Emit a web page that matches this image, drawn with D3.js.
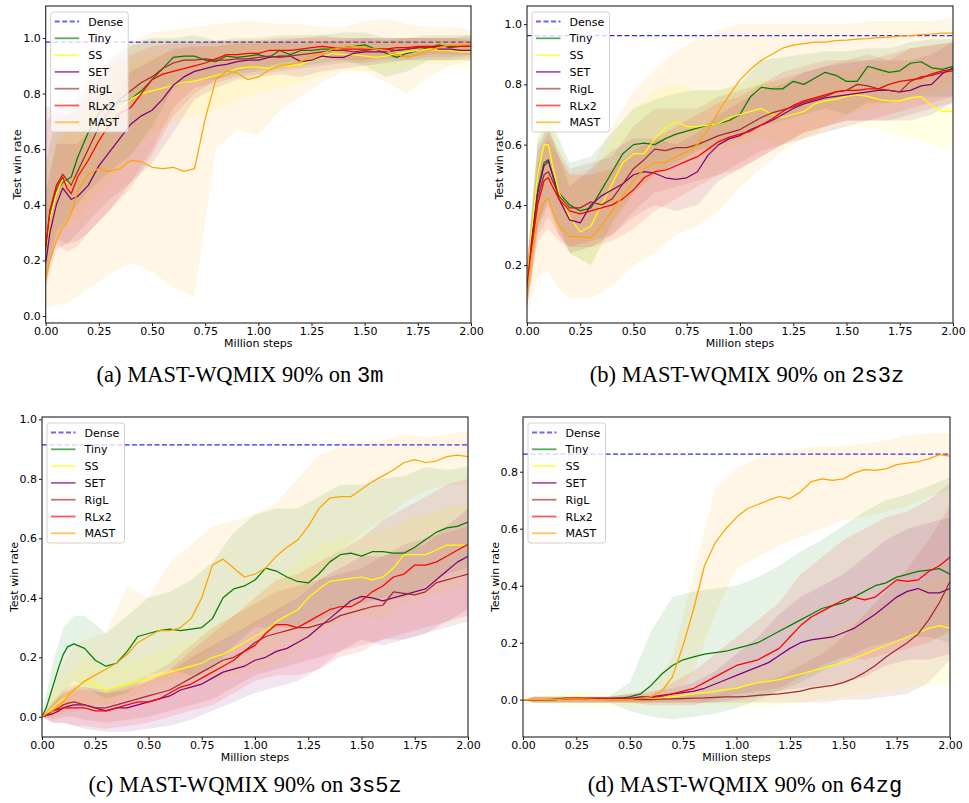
<!DOCTYPE html>
<html><head><meta charset="utf-8">
<script src="https://cdn.jsdelivr.net/npm/d3@7"></script>
<style>body{margin:0;background:#fff}svg{display:block}</style>
</head><body>
<svg id="fig" width="969" height="803"></svg>
<script>
// Training steps (millions) at which the smoothed mean win rate was logged
const steps = [0, 0.02, 0.05, 0.08, 0.10, 0.12, 0.15,
  0.20, 0.25, 0.30, 0.35, 0.40, 0.45, 0.50, 0.55, 0.60, 0.65,
  0.70, 0.75, 0.80, 0.85, 0.90, 0.95, 1.00, 1.05, 1.10, 1.15,
  1.20, 1.25, 1.30, 1.35, 1.40, 1.45, 1.50, 1.55, 1.60, 1.65,
  1.70, 1.75, 1.80, 1.85, 1.90, 1.95, 2.00];
// Steps at which the spread (min / max over seeds) was logged
const bandSteps = [0, 0.05, 0.10, 0.15, 0.20,
  0.3, 0.4, 0.5, 0.6, 0.7, 0.8, 0.9,
  1.0, 1.1, 1.2, 1.3, 1.4, 1.5, 1.6, 1.7, 1.8, 1.9, 2.0];

const methods = ["Tiny", "SS", "SET", "RigL", "RLx2", "MAST"];
const maps = ["3m", "2s3z", "3s5z", "64zg"];
const denseWinRate = [0.985, 0.962, 0.914, 0.862];
const xTicks = [0, 0.25, 0.5, 0.75, 1.0, 1.25, 1.5, 1.75, 2.0];

// ---- 3m ----
const tiny3m = [0.22,0.36,0.45,0.48,0.49,0.50,0.57, 0.66,0.73,0.76,0.77,0.78,0.81,0.85,0.89,0.93,0.935, 0.935,0.92,0.915,0.935,0.93,0.935,0.94,0.93,0.955,0.94, 0.955,0.955,0.96,0.96,0.965,0.97,0.975,0.96,0.945,0.93, 0.945,0.955,0.965,0.975,0.965,0.97,0.97];
const ss3m = [0.22,0.35,0.44,0.49,0.48,0.47,0.50, 0.56,0.63,0.70,0.75,0.78,0.80,0.81,0.82,0.83,0.84, 0.845,0.855,0.865,0.875,0.89,0.895,0.895,0.89,0.90,0.90, 0.905,0.92,0.93,0.945,0.94,0.94,0.935,0.93,0.935,0.945, 0.95,0.955,0.96,0.955,0.955,0.95,0.95];
const set3m = [0.19,0.30,0.40,0.46,0.44,0.42,0.43, 0.47,0.54,0.59,0.64,0.69,0.72,0.74,0.78,0.83,0.86, 0.88,0.89,0.90,0.905,0.915,0.92,0.92,0.93,0.935,0.935, 0.915,0.92,0.935,0.93,0.93,0.945,0.95,0.95,0.95,0.955, 0.96,0.965,0.97,0.96,0.96,0.955,0.955];
const rigl3m = [0.24,0.38,0.47,0.51,0.49,0.47,0.52, 0.60,0.68,0.74,0.78,0.81,0.84,0.86,0.89,0.91,0.92, 0.92,0.925,0.92,0.92,0.925,0.925,0.93,0.935,0.93,0.935, 0.94,0.945,0.95,0.955,0.955,0.95,0.955,0.96,0.96,0.955, 0.96,0.965,0.965,0.97,0.97,0.97,0.975];
const rlx23m = [0.25,0.38,0.46,0.50,0.46,0.44,0.50, 0.56,0.63,0.69,0.73,0.75,0.80,0.85,0.87,0.88,0.89, 0.90,0.91,0.925,0.94,0.94,0.945,0.945,0.955,0.955,0.955, 0.96,0.965,0.97,0.965,0.96,0.96,0.96,0.96,0.96,0.965, 0.965,0.97,0.97,0.97,0.97,0.97,0.97];
const mast3m = [0.13,0.20,0.27,0.32,0.34,0.37,0.45, 0.51,0.53,0.52,0.53,0.56,0.555,0.535,0.53,0.535,0.52, 0.53,0.71,0.85,0.88,0.875,0.85,0.86,0.885,0.90,0.905, 0.915,0.935,0.945,0.96,0.965,0.97,0.965,0.96,0.955,0.94, 0.93,0.94,0.955,0.965,0.975,0.975,0.975];
const tinyLo3m = [0.12,0.30,0.35,0.40,0.45, 0.52,0.58,0.68,0.82,0.85,0.85,0.87, 0.88,0.89,0.90,0.91,0.92,0.90,0.86,0.88,0.92,0.92,0.93];
const tinyHi3m = [0.55,0.72,0.72,0.78,0.85, 0.92,0.98,1.00,1.00,1.01,0.99,1.00, 1.00,1.01,1.01,1.01,1.02,1.02,1.00,1.00,1.01,1.01,1.01];
const ssLo3m = [0.12,0.28,0.32,0.35,0.40, 0.48,0.58,0.66,0.70,0.72,0.74,0.78, 0.80,0.82,0.84,0.87,0.89,0.88,0.88,0.90,0.91,0.90,0.89];
const ssHi3m = [0.50,0.66,0.66,0.68,0.74, 0.86,0.92,0.94,0.95,0.96,0.97,0.98, 0.98,0.98,0.98,0.99,0.99,0.99,0.99,1.00,1.00,1.00,1.00];
const setLo3m = [0.10,0.24,0.26,0.27,0.30, 0.38,0.48,0.55,0.66,0.78,0.82,0.85, 0.86,0.87,0.86,0.88,0.89,0.90,0.91,0.92,0.92,0.92,0.92];
const setHi3m = [0.45,0.62,0.62,0.62,0.66, 0.78,0.88,0.92,0.96,0.97,0.97,0.98, 0.98,0.99,0.98,0.99,0.99,1.00,1.00,1.00,1.00,1.00,0.99];
const riglLo3m = [0.14,0.28,0.26,0.30,0.34, 0.42,0.48,0.60,0.75,0.82,0.84,0.86, 0.87,0.88,0.89,0.90,0.91,0.91,0.92,0.92,0.93,0.93,0.94];
const riglHi3m = [0.75,0.76,0.74,0.76,0.82, 0.92,0.97,0.99,0.99,0.99,0.99,0.99, 0.99,0.99,1.00,1.00,1.00,1.00,1.00,1.00,1.00,1.00,1.01];
const rlx2Lo3m = [0.15,0.26,0.23,0.25,0.30, 0.38,0.46,0.58,0.72,0.80,0.85,0.88, 0.89,0.91,0.92,0.93,0.92,0.92,0.93,0.93,0.94,0.94,0.94];
const rlx2Hi3m = [0.70,0.74,0.72,0.74,0.80, 0.90,0.94,0.97,0.98,0.98,0.99,0.99, 0.99,1.00,1.00,1.01,1.00,1.00,0.99,1.00,1.00,1.00,1.00];
const mastLo3m = [0.03,0.04,0.045,0.07,0.10, 0.15,0.19,0.16,0.10,0.07,0.60,0.67, 0.65,0.74,0.79,0.84,0.88,0.88,0.84,0.80,0.86,0.90,0.92];
const mastHi3m = [0.35,0.60,0.68,0.80,0.88, 0.94,0.99,1.02,1.03,1.04,1.05,1.06, 1.06,1.05,1.05,1.04,1.04,1.06,1.07,1.05,1.04,1.04,1.03];

// ---- 2s3z ----
const tiny2s3z = [0.12,0.28,0.45,0.54,0.55,0.50,0.44, 0.40,0.38,0.39,0.45,0.51,0.57,0.60,0.605,0.60,0.62, 0.635,0.645,0.655,0.665,0.67,0.68,0.70,0.76,0.79,0.785, 0.785,0.81,0.80,0.82,0.84,0.83,0.81,0.81,0.86,0.85, 0.84,0.845,0.87,0.875,0.855,0.85,0.86];
const ss2s3z = [0.12,0.30,0.50,0.60,0.60,0.53,0.44, 0.36,0.31,0.33,0.40,0.47,0.54,0.57,0.57,0.62,0.655, 0.675,0.66,0.66,0.665,0.67,0.69,0.70,0.71,0.72,0.70, 0.69,0.70,0.71,0.735,0.745,0.75,0.76,0.765,0.76,0.75, 0.745,0.745,0.755,0.76,0.73,0.71,0.71];
const set2s3z = [0.11,0.27,0.44,0.53,0.545,0.50,0.42, 0.35,0.34,0.40,0.43,0.45,0.47,0.50,0.51,0.505,0.49, 0.485,0.49,0.51,0.565,0.60,0.62,0.63,0.65,0.665,0.68, 0.70,0.72,0.735,0.745,0.755,0.76,0.765,0.77,0.775,0.78, 0.78,0.775,0.78,0.795,0.80,0.835,0.855];
const rigl2s3z = [0.12,0.26,0.42,0.50,0.51,0.48,0.43, 0.39,0.39,0.41,0.40,0.42,0.47,0.52,0.55,0.585,0.58, 0.59,0.59,0.60,0.615,0.63,0.64,0.65,0.67,0.69,0.705, 0.715,0.725,0.74,0.75,0.76,0.775,0.78,0.80,0.795,0.785, 0.78,0.775,0.81,0.825,0.83,0.84,0.845];
const rlx22s3z = [0.12,0.25,0.40,0.48,0.49,0.46,0.42, 0.38,0.37,0.38,0.39,0.40,0.42,0.45,0.49,0.51,0.515, 0.53,0.545,0.56,0.585,0.61,0.625,0.635,0.645,0.665,0.685, 0.71,0.73,0.745,0.755,0.765,0.775,0.78,0.78,0.785,0.785, 0.80,0.81,0.815,0.82,0.835,0.845,0.85];
const mast2s3z = [0.10,0.22,0.35,0.41,0.42,0.38,0.33, 0.295,0.295,0.29,0.33,0.38,0.43,0.48,0.52,0.54,0.54, 0.56,0.575,0.60,0.65,0.71,0.765,0.815,0.85,0.88,0.90, 0.92,0.93,0.935,0.94,0.94,0.945,0.947,0.95,0.952,0.955, 0.957,0.96,0.962,0.965,0.967,0.97,0.97];
const tinyLo2s3z = [0.06,0.33,0.42,0.33,0.24, 0.20,0.34,0.44,0.50,0.54,0.58,0.60, 0.62,0.66,0.68,0.70,0.72,0.70,0.74,0.74,0.76,0.76,0.76];
const tinyHi2s3z = [0.20,0.62,0.68,0.62,0.54, 0.56,0.64,0.72,0.75,0.77,0.78,0.78, 0.80,0.88,0.89,0.90,0.91,0.91,0.92,0.92,0.94,0.95,0.95];
const ssLo2s3z = [0.06,0.36,0.46,0.32,0.24, 0.20,0.32,0.44,0.50,0.54,0.56,0.58, 0.60,0.62,0.60,0.62,0.64,0.66,0.66,0.64,0.62,0.60,0.58];
const ssHi2s3z = [0.20,0.66,0.74,0.60,0.50, 0.48,0.62,0.72,0.78,0.80,0.78,0.78, 0.80,0.82,0.80,0.80,0.83,0.85,0.86,0.87,0.88,0.87,0.84];
const setLo2s3z = [0.06,0.32,0.40,0.30,0.24, 0.26,0.30,0.36,0.40,0.38,0.40,0.48, 0.52,0.56,0.60,0.62,0.64,0.66,0.68,0.68,0.68,0.70,0.74];
const setHi2s3z = [0.20,0.60,0.66,0.56,0.46, 0.52,0.58,0.62,0.62,0.60,0.64,0.70, 0.74,0.78,0.80,0.84,0.86,0.87,0.88,0.88,0.88,0.90,0.94];
const riglLo2s3z = [0.06,0.30,0.36,0.30,0.26, 0.28,0.30,0.38,0.44,0.46,0.48,0.50, 0.54,0.58,0.60,0.64,0.66,0.68,0.68,0.68,0.70,0.72,0.74];
const riglHi2s3z = [0.20,0.58,0.64,0.58,0.52, 0.54,0.56,0.66,0.72,0.72,0.72,0.76, 0.78,0.80,0.82,0.84,0.86,0.88,0.90,0.88,0.92,0.93,0.94];
const rlx2Lo2s3z = [0.06,0.28,0.32,0.28,0.26, 0.26,0.28,0.32,0.38,0.42,0.46,0.50, 0.52,0.56,0.60,0.64,0.66,0.68,0.68,0.70,0.72,0.74,0.76];
const rlx2Hi2s3z = [0.20,0.54,0.62,0.56,0.50, 0.50,0.52,0.58,0.62,0.66,0.70,0.74, 0.76,0.80,0.84,0.86,0.88,0.88,0.88,0.90,0.92,0.93,0.94];
const mastLo2s3z = [0.04,0.16,0.18,0.12,0.09, 0.09,0.13,0.20,0.24,0.30,0.33,0.38, 0.46,0.52,0.58,0.62,0.66,0.70,0.72,0.74,0.76,0.78,0.80];
const mastHi2s3z = [0.18,0.55,0.68,0.56,0.50, 0.52,0.66,0.78,0.85,0.91,0.95,0.98, 1.00,1.00,1.00,1.00,1.00,1.00,1.01,1.01,1.01,1.01,1.02];

// ---- 3s5z ----
const tiny3s5z = [0.0,0.03,0.10,0.17,0.21,0.235,0.245, 0.23,0.19,0.17,0.18,0.22,0.27,0.28,0.29,0.295,0.29, 0.295,0.30,0.33,0.40,0.43,0.44,0.46,0.50,0.49,0.47, 0.455,0.45,0.48,0.52,0.545,0.55,0.54,0.555,0.555,0.55, 0.55,0.57,0.595,0.62,0.635,0.64,0.655];
const ss3s5z = [0,0.01,0.03,0.05,0.06,0.07,0.09, 0.12,0.11,0.09,0.10,0.11,0.12,0.13,0.14,0.15,0.16, 0.17,0.18,0.20,0.21,0.23,0.25,0.27,0.29,0.32,0.34, 0.36,0.40,0.43,0.455,0.46,0.465,0.47,0.46,0.47,0.50, 0.545,0.545,0.545,0.56,0.577,0.577,0.577];
const set3s5z = [0,0.005,0.01,0.02,0.03,0.035,0.04, 0.04,0.03,0.02,0.03,0.03,0.04,0.05,0.06,0.07,0.09, 0.10,0.11,0.13,0.15,0.16,0.17,0.19,0.20,0.22,0.23, 0.25,0.27,0.30,0.33,0.36,0.39,0.405,0.40,0.39,0.40, 0.41,0.42,0.43,0.46,0.49,0.52,0.54];
const rigl3s5z = [0,0.005,0.02,0.03,0.04,0.045,0.05, 0.04,0.03,0.03,0.04,0.05,0.06,0.07,0.08,0.09,0.11, 0.13,0.15,0.17,0.19,0.20,0.22,0.25,0.27,0.28,0.29, 0.30,0.30,0.31,0.32,0.34,0.35,0.36,0.37,0.375,0.42, 0.415,0.41,0.42,0.45,0.46,0.47,0.48];
const rlx23s5z = [0,0.005,0.02,0.025,0.03,0.03,0.03, 0.03,0.02,0.02,0.03,0.04,0.05,0.05,0.06,0.08,0.10, 0.11,0.13,0.15,0.17,0.19,0.22,0.24,0.28,0.31,0.31, 0.30,0.32,0.34,0.36,0.37,0.37,0.39,0.42,0.44,0.47, 0.48,0.51,0.51,0.52,0.54,0.56,0.58];
const mast3s5z = [0,0.01,0.02,0.04,0.05,0.07,0.09, 0.12,0.14,0.16,0.18,0.21,0.25,0.27,0.29,0.29,0.30, 0.33,0.40,0.51,0.53,0.50,0.47,0.48,0.50,0.54,0.57, 0.594,0.64,0.70,0.735,0.74,0.74,0.765,0.79,0.81,0.83, 0.855,0.865,0.855,0.86,0.875,0.88,0.875];
const tinyLo3s5z = [0,0.0,0.08,0.12,0.10, 0.06,0.08,0.14,0.16,0.14,0.16,0.24, 0.30,0.30,0.30,0.32,0.36,0.38,0.40,0.40,0.44,0.48,0.50];
const tinyHi3s5z = [0,0.18,0.30,0.34,0.34, 0.28,0.34,0.40,0.42,0.46,0.52,0.62, 0.68,0.70,0.70,0.74,0.78,0.78,0.80,0.81,0.84,0.83,0.84];
const ssLo3s5z = [0,0.0,0.02,0.04,0.05, 0.04,0.06,0.07,0.08,0.10,0.12,0.14, 0.16,0.18,0.22,0.28,0.32,0.34,0.32,0.38,0.40,0.42,0.44];
const ssHi3s5z = [0,0.08,0.12,0.16,0.20, 0.16,0.18,0.20,0.24,0.26,0.30,0.34, 0.40,0.46,0.52,0.58,0.60,0.62,0.62,0.66,0.68,0.70,0.72];
const setLo3s5z = [0,-0.02,-0.02,-0.03,-0.04, -0.05,-0.05,-0.04,-0.03,-0.01,0.02,0.05, 0.08,0.10,0.12,0.16,0.22,0.26,0.24,0.26,0.28,0.32,0.36];
const setHi3s5z = [0,0.04,0.08,0.10,0.10, 0.08,0.09,0.12,0.15,0.20,0.24,0.28, 0.32,0.36,0.40,0.46,0.50,0.54,0.54,0.56,0.58,0.64,0.70];
const riglLo3s5z = [0,-0.01,0.0,0.0,-0.01, -0.02,-0.01,0.0,0.02,0.04,0.06,0.10, 0.14,0.16,0.18,0.20,0.22,0.24,0.26,0.26,0.28,0.30,0.32];
const riglHi3s5z = [0,0.05,0.09,0.11,0.10, 0.09,0.11,0.14,0.18,0.24,0.30,0.34, 0.38,0.42,0.44,0.46,0.48,0.50,0.54,0.58,0.60,0.62,0.64];
const rlx2Lo3s5z = [0,-0.02,-0.02,-0.03,-0.03, -0.04,-0.03,-0.02,0.0,0.02,0.04,0.08, 0.12,0.14,0.14,0.16,0.20,0.22,0.26,0.28,0.30,0.32,0.34];
const rlx2Hi3s5z = [0,0.05,0.08,0.09,0.09, 0.08,0.10,0.12,0.16,0.22,0.28,0.34, 0.40,0.46,0.48,0.52,0.56,0.60,0.66,0.70,0.74,0.78,0.80];
const mastLo3s5z = [0,0.0,0.01,0.02,0.03, 0.04,0.06,0.10,0.12,0.14,0.22,0.28, 0.30,0.34,0.40,0.48,0.56,0.62,0.66,0.72,0.76,0.78,0.78];
const mastHi3s5z = [0,0.10,0.18,0.24,0.26, 0.28,0.44,0.40,0.52,0.58,0.64,0.66, 0.68,0.72,0.80,0.88,0.91,0.92,0.93,0.95,0.94,0.95,0.96];

// ---- 64zg ----
const tiny64zg = [0,0,0,0,0,0,0.002, 0.005,0.005,0.003,0.002,0.002,0.005,0.01,0.02,0.05,0.09, 0.12,0.14,0.15,0.16,0.165,0.17,0.18,0.19,0.20,0.22, 0.24,0.26,0.28,0.30,0.32,0.33,0.34,0.36,0.38,0.40, 0.41,0.43,0.44,0.45,0.455,0.46,0.44];
const ss64zg = [0,0,0,0,0,0,0, 0.005,0.008,0.005,0.003,0.002,0,0,0,0.002,0.005, 0.01,0.015,0.02,0.025,0.03,0.035,0.04,0.05,0.06,0.065, 0.07,0.08,0.09,0.10,0.11,0.12,0.13,0.145,0.16,0.175, 0.19,0.205,0.22,0.235,0.25,0.26,0.25];
const set64zg = [0,0,0,0,0,0,0, 0.005,0.005,0.005,0.005,0.005,0.005,0.005,0.01,0.01,0.015, 0.02,0.025,0.03,0.04,0.055,0.07,0.085,0.10,0.115,0.13, 0.155,0.18,0.20,0.21,0.215,0.22,0.235,0.25,0.275,0.30, 0.33,0.36,0.38,0.39,0.375,0.375,0.39];
const rigl64zg = [0,0,0,0,0,0,0, 0.003,0.003,0.003,0.002,0,0,0,0,0,0.002, 0.003,0.004,0.005,0.006,0.008,0.01,0.01,0.012,0.015,0.018, 0.02,0.025,0.03,0.04,0.045,0.05,0.06,0.075,0.095,0.12, 0.15,0.175,0.20,0.23,0.28,0.34,0.415];
const rlx264zg = [0,0,0,0,0,0,0, 0.003,0.005,0.003,0.002,0.002,0.002,0.003,0.005,0.008,0.012, 0.02,0.03,0.04,0.06,0.08,0.10,0.12,0.13,0.14,0.16, 0.18,0.22,0.26,0.29,0.31,0.33,0.35,0.36,0.35,0.36, 0.39,0.42,0.415,0.42,0.45,0.47,0.50];
const mast64zg = [0,0,0,0,0,0,0, 0.003,0.003,0.002,0,0,0,0,0.005,0.01,0.03, 0.08,0.19,0.32,0.47,0.55,0.60,0.64,0.67,0.685,0.70, 0.713,0.705,0.73,0.765,0.775,0.77,0.775,0.795,0.807,0.805, 0.81,0.825,0.83,0.835,0.845,0.86,0.855];
const tinyLo64zg = [0,-0.01,-0.01,-0.01,-0.01, -0.01,-0.01,-0.04,-0.06,-0.07,-0.06,-0.05, -0.03,0.0,0.03,0.06,0.10,0.14,0.18,0.20,0.22,0.22,0.20];
const tinyHi64zg = [0,0.01,0.01,0.01,0.01, 0.01,0.01,0.06,0.24,0.36,0.38,0.39, 0.40,0.43,0.47,0.52,0.56,0.61,0.66,0.70,0.72,0.75,0.78];
const ssLo64zg = [0,-0.01,-0.01,-0.02,-0.02, -0.02,-0.02,-0.02,-0.02,-0.02,-0.02,-0.02, -0.02,-0.02,-0.02,-0.01,0.0,0.01,0.02,0.03,0.04,0.05,0.05];
const ssHi64zg = [0,0.01,0.015,0.02,0.025, 0.03,0.02,0.02,0.02,0.03,0.04,0.06, 0.08,0.11,0.14,0.18,0.22,0.26,0.30,0.34,0.38,0.42,0.44];
const setLo64zg = [0,-0.01,-0.01,-0.01,-0.01, -0.01,-0.01,-0.01,-0.01,-0.01,-0.01,-0.01, 0.0,0.01,0.03,0.04,0.05,0.06,0.08,0.12,0.14,0.14,0.16];
const setHi64zg = [0,0.01,0.01,0.01,0.01, 0.01,0.01,0.02,0.03,0.04,0.06,0.10, 0.16,0.22,0.30,0.36,0.40,0.44,0.50,0.56,0.60,0.62,0.64];
const riglLo64zg = [0,-0.01,-0.01,-0.01,-0.01, -0.01,-0.01,-0.01,-0.01,-0.01,-0.01,-0.01, -0.01,-0.01,-0.01,-0.01,-0.01,0.0,0.0,0.01,0.02,0.06,0.14];
const riglHi64zg = [0,0.01,0.01,0.01,0.01, 0.01,0.01,0.01,0.01,0.01,0.02,0.02, 0.04,0.06,0.08,0.12,0.16,0.22,0.30,0.38,0.46,0.56,0.68];
const rlx2Lo64zg = [0,-0.01,-0.01,-0.01,-0.01, -0.01,-0.01,-0.01,-0.02,-0.02,-0.02,0.0, 0.02,0.03,0.04,0.08,0.12,0.15,0.14,0.16,0.18,0.20,0.24];
const rlx2Hi64zg = [0,0.01,0.01,0.01,0.01, 0.01,0.01,0.02,0.02,0.06,0.10,0.16, 0.22,0.28,0.34,0.44,0.50,0.56,0.60,0.64,0.66,0.70,0.76];
const mastLo64zg = [0,-0.01,-0.01,-0.01,-0.01, -0.01,-0.01,-0.01,-0.01,0.0,0.10,0.30, 0.46,0.50,0.54,0.57,0.60,0.63,0.64,0.66,0.68,0.71,0.74];
const mastHi64zg = [0,0.01,0.01,0.01,0.01, 0.01,0.01,0.02,0.04,0.15,0.45,0.74, 0.81,0.85,0.87,0.88,0.89,0.89,0.90,0.91,0.93,0.935,0.935];

// ---- styling ----
const lineColors = ["#008000", "#ffff00", "#800080", "#a52a2a", "#ff0000", "#ffa500"];
const denseColor = "#0000ff";
const sansFont = "'DejaVu Sans', Verdana, sans-serif";
const serifFont = "'Liberation Serif', 'Times New Roman', serif";
const monoFont = "'Liberation Mono', 'DejaVu Sans Mono', monospace";

const panels = [
  { tag: "(a)", left: 45.7, top: 6, right: 471, bottom: 323, yDomain: [-0.025, 1.115],
    yTicks: [0, 0.2, 0.4, 0.6, 0.8, 1.0], capX: 240, capY: 382,
    mean: [tiny3m, ss3m, set3m, rigl3m, rlx23m, mast3m],
    lo: [tinyLo3m, ssLo3m, setLo3m, riglLo3m, rlx2Lo3m, mastLo3m],
    hi: [tinyHi3m, ssHi3m, setHi3m, riglHi3m, rlx2Hi3m, mastHi3m] },
  { tag: "(b)", left: 527, top: 6, right: 953, bottom: 323, yDomain: [0.008, 1.06],
    yTicks: [0.2, 0.4, 0.6, 0.8, 1.0], capX: 747, capY: 382,
    mean: [tiny2s3z, ss2s3z, set2s3z, rigl2s3z, rlx22s3z, mast2s3z],
    lo: [tinyLo2s3z, ssLo2s3z, setLo2s3z, riglLo2s3z, rlx2Lo2s3z, mastLo2s3z],
    hi: [tinyHi2s3z, ssHi2s3z, setHi2s3z, riglHi2s3z, rlx2Hi2s3z, mastHi2s3z] },
  { tag: "(c)", left: 42, top: 417, right: 468, bottom: 737, yDomain: [-0.068, 1.008],
    yTicks: [0, 0.2, 0.4, 0.6, 0.8, 1.0], capX: 245, capY: 792,
    mean: [tiny3s5z, ss3s5z, set3s5z, rigl3s5z, rlx23s5z, mast3s5z],
    lo: [tinyLo3s5z, ssLo3s5z, setLo3s5z, riglLo3s5z, rlx2Lo3s5z, mastLo3s5z],
    hi: [tinyHi3s5z, ssHi3s5z, setHi3s5z, riglHi3s5z, rlx2Hi3s5z, mastHi3s5z] },
  { tag: "(d)", left: 523, top: 417, right: 950, bottom: 737, yDomain: [-0.131, 0.992],
    yTicks: [0, 0.2, 0.4, 0.6, 0.8], capX: 745, capY: 792,
    mean: [tiny64zg, ss64zg, set64zg, rigl64zg, rlx264zg, mast64zg],
    lo: [tinyLo64zg, ssLo64zg, setLo64zg, riglLo64zg, rlx2Lo64zg, mastLo64zg],
    hi: [tinyHi64zg, ssHi64zg, setHi64zg, riglHi64zg, rlx2Hi64zg, mastHi64zg] }
];

const svg = d3.select("#fig");
const defs = svg.append("defs");

panels.forEach((p, pi) => {
  const x = d3.scaleLinear().domain([0, 2]).range([p.left, p.right]);
  const y = d3.scaleLinear().domain(p.yDomain).range([p.bottom, p.top]);
  const g = svg.append("g");

  const clipId = "plotclip" + pi;
  defs.append("clipPath").attr("id", clipId).append("rect")
    .attr("x", p.left).attr("y", p.top)
    .attr("width", p.right - p.left).attr("height", p.bottom - p.top);
  const plot = g.append("g").attr("clip-path", `url(#${clipId})`);

  // dense baseline
  plot.append("line")
    .attr("x1", x(0)).attr("x2", x(2))
    .attr("y1", y(denseWinRate[pi])).attr("y2", y(denseWinRate[pi]))
    .attr("stroke", denseColor).attr("stroke-opacity", 0.85)
    .attr("stroke-width", 1.3).attr("stroke-dasharray", "5,2.5");

  // spread bands
  const area = d3.area()
    .x((d, j) => x(bandSteps[j]))
    .y0(d => y(d[0])).y1(d => y(d[1]));
  methods.forEach((m, i) => {
    plot.append("path")
      .datum(d3.zip(p.lo[i], p.hi[i]))
      .attr("d", area)
      .attr("fill", lineColors[i]).attr("fill-opacity", 0.1)
      .attr("stroke", "none");
  });

  // mean curves
  const line = d3.line().x((d, j) => x(steps[j])).y(d => y(d));
  methods.forEach((m, i) => {
    plot.append("path")
      .datum(p.mean[i])
      .attr("d", line)
      .attr("fill", "none")
      .attr("stroke", lineColors[i])
      .attr("stroke-width", 1.25)
      .attr("stroke-linejoin", "round");
  });

  // axes
  const xAxis = d3.axisBottom(x).tickValues(xTicks)
    .tickFormat(d3.format(".2f")).tickSize(3).tickPadding(1.5);
  const yAxis = d3.axisLeft(y).tickValues(p.yTicks)
    .tickFormat(d3.format(".1f")).tickSize(3).tickPadding(2);
  const gx = g.append("g").attr("transform", `translate(0,${p.bottom})`).call(xAxis);
  const gy = g.append("g").attr("transform", `translate(${p.left},0)`).call(yAxis);
  [gx, gy].forEach(ax => {
    ax.select(".domain").remove();
    ax.selectAll("text").attr("font-family", sansFont).attr("font-size", 11).attr("fill", "#000");
    ax.selectAll("line").attr("stroke", "#000").attr("stroke-width", 0.9);
  });

  // frame
  g.append("rect")
    .attr("x", p.left).attr("y", p.top)
    .attr("width", p.right - p.left).attr("height", p.bottom - p.top)
    .attr("fill", "none").attr("stroke", "#222").attr("stroke-width", 1.1);

  // axis titles
  g.append("text")
    .attr("x", (p.left + p.right) / 2).attr("y", p.bottom + 23.5)
    .attr("text-anchor", "middle")
    .attr("font-family", sansFont).attr("font-size", 11)
    .text("Million steps");
  g.append("text")
    .attr("transform", `translate(${p.left - 24.5},${(p.top + p.bottom) / 2}) rotate(-90)`)
    .attr("text-anchor", "middle")
    .attr("font-family", sansFont).attr("font-size", 11)
    .text("Test win rate");

  // legend
  const lx = p.left + 5, ly = p.top + 6;
  const leg = g.append("g");
  leg.append("rect")
    .attr("x", lx).attr("y", ly).attr("width", 77.5).attr("height", 120)
    .attr("rx", 2.5)
    .attr("fill", "#fff").attr("fill-opacity", 0.8)
    .attr("stroke", "#cccccc").attr("stroke-width", 0.9);
  const entries = ["Dense"].concat(methods);
  entries.forEach((name, k) => {
    const ry = ly + 9.5 + k * 16.8;
    const ln = leg.append("line")
      .attr("x1", lx + 4).attr("x2", lx + 28.5)
      .attr("y1", ry).attr("y2", ry)
      .attr("stroke-width", 1.8);
    if (k === 0) {
      ln.attr("stroke", denseColor).attr("stroke-opacity", 0.6).attr("stroke-dasharray", "5,2.5");
    } else {
      ln.attr("stroke", lineColors[k - 1]).attr("stroke-opacity", 0.65);
    }
    leg.append("text")
      .attr("x", lx + 37.5).attr("y", ry + 4)
      .attr("font-family", sansFont).attr("font-size", 11)
      .text(name);
  });

  // caption
  const cap = svg.append("text")
    .attr("x", p.capX).attr("y", p.capY)
    .attr("text-anchor", "middle")
    .attr("font-size", 22.5);
  cap.append("tspan").attr("font-family", serifFont).text(p.tag + " MAST-WQMIX 90% on ");
  cap.append("tspan").attr("font-family", monoFont).attr("font-size", 22).text(maps[pi]);
});
</script>
</body></html>
